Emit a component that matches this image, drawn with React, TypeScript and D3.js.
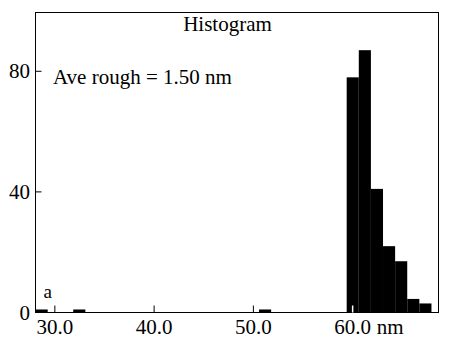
import { useEffect, useRef } from "react";
import * as d3 from "d3";

// histogram bins: left edge (nm) and count
const binStarts = [28.06, 31.85, 50.57, 59.4, 60.62, 61.84, 63.06, 64.28, 65.5, 66.72];
const binCounts = [1, 1, 1, 78, 87, 41, 22, 17, 4.5, 3];
const BIN_WIDTH = 1.22;

const xTicks = [30, 40, 50, 60];
const xTickLabels = ["30.0", "40.0", "50.0", "60.0"];
const yTicks = [0, 40, 80];

const W = 454;
const H = 337;
const FONT = "Liberation Serif";

export default function App() {
  const svgRef = useRef<SVGSVGElement>(null);

  useEffect(() => {
    if (!svgRef.current) return;
    const svg = d3.select(svgRef.current);
    svg.selectAll("*").remove();

    const left = 35.5;
    const right = 438.5;
    const top = 12.5;
    const bottom = 312.5;

    const x = d3.scaleLinear().domain([28.05, 68.65]).range([left, right]);
    const y = d3.scaleLinear().domain([0, 99.5]).range([bottom, top]);

    const bins = binStarts.map((s, i) => ({ x0: s, x1: s + BIN_WIDTH, count: binCounts[i] }));

    // bars
    svg.append("g")
      .selectAll("rect")
      .data(bins)
      .enter()
      .append("rect")
      .attr("x", (d) => x(d.x0))
      .attr("y", (d) => y(d.count))
      .attr("width", (d) => x(d.x1) - x(d.x0))
      .attr("height", (d) => y(0) - y(d.count))
      .attr("fill", "#000");

    // frame
    svg.append("rect")
      .attr("x", left)
      .attr("y", top)
      .attr("width", right - left)
      .attr("height", bottom - top)
      .attr("fill", "none")
      .attr("stroke", "#000")
      .attr("stroke-width", 1);

    // x ticks (inside)
    svg.append("g")
      .selectAll("line")
      .data(xTicks)
      .enter()
      .append("line")
      .attr("x1", (d) => x(d))
      .attr("x2", (d) => x(d))
      .attr("y1", bottom)
      .attr("y2", bottom - 7)
      .attr("stroke", (d) => (d === 60 ? "#fff" : "#000"))
      .attr("stroke-width", (d) => (d === 60 ? 1.5 : 1));

    svg.append("g")
      .selectAll("text")
      .data(xTicks)
      .enter()
      .append("text")
      .attr("x", (d) => x(d))
      .attr("y", 334)
      .attr("text-anchor", "middle")
      .style("font-family", FONT)
      .attr("font-size", 21)
      .attr("fill", "#000")
      .text((d, i) => xTickLabels[i]);

    svg.append("text")
      .attr("x", x(60) + 24)
      .attr("y", 334)
      .style("font-family", FONT)
      .attr("font-size", 21)
      .attr("fill", "#000")
      .text("nm");

    // y ticks (inside)
    svg.append("g")
      .selectAll("line")
      .data(yTicks)
      .enter()
      .append("line")
      .attr("x1", left)
      .attr("x2", left + 6)
      .attr("y1", (d) => y(d))
      .attr("y2", (d) => y(d))
      .attr("stroke", "#000");

    svg.append("g")
      .selectAll("text")
      .data(yTicks)
      .enter()
      .append("text")
      .attr("x", 30)
      .attr("y", (d) => y(d) + 7)
      .attr("text-anchor", "end")
      .style("font-family", FONT)
      .attr("font-size", 21)
      .attr("fill", "#000")
      .text((d) => d);

    // annotations
    svg.append("text")
      .attr("x", 227.5)
      .attr("y", 31)
      .attr("text-anchor", "middle")
      .style("font-family", FONT)
      .attr("font-size", 21)
      .text("Histogram");

    svg.append("text")
      .attr("x", 53)
      .attr("y", 84)
      .style("font-family", FONT)
      .attr("font-size", 21)
      .text("Ave rough = 1.50 nm");

    svg.append("text")
      .attr("x", 43.5)
      .attr("y", 298)
      .style("font-family", FONT)
      .attr("font-size", 19)
      .text("a");
  }, []);

  return (
    <div style={{ position: "absolute", left: 0, top: 0, background: "#fff" }}>
      <svg ref={svgRef} width={W} height={H} style={{ display: "block" }} />
    </div>
  );
}
